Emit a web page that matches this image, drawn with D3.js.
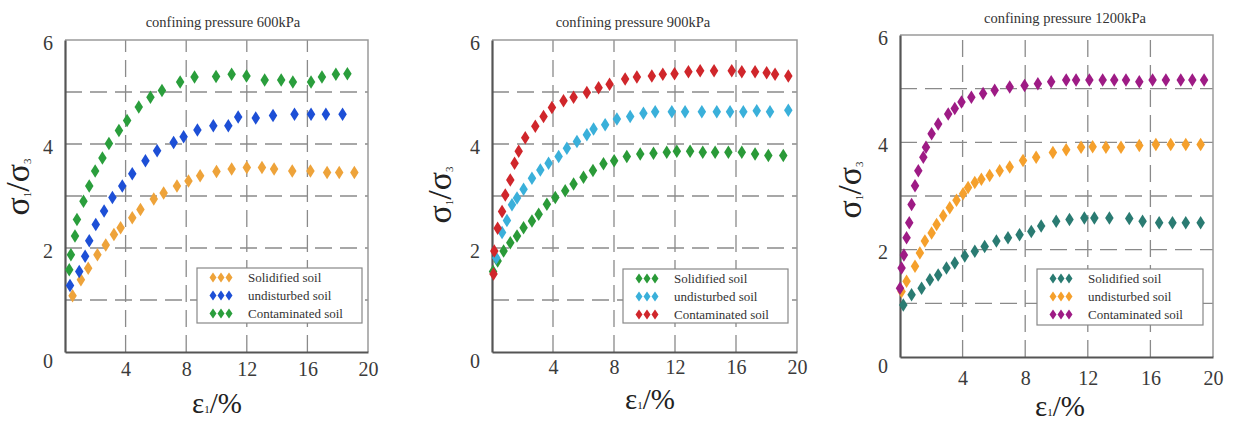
<!DOCTYPE html>
<html><head><meta charset="utf-8">
<script src="https://cdn.jsdelivr.net/npm/d3@7"></script>
<style>body{margin:0;background:#fff}svg{display:block}</style>
</head><body><svg id="c" width="1235" height="426"></svg>
<script>
// ---- data ----
const titles = ["confining pressure 600kPa","confining pressure 900kPa","confining pressure 1200kPa"];
const seriesNames = ["Solidified soil","undisturbed soil","Contaminated soil"];
const xTicks = [4,8,12,16,20];
const yTicks = [0,2,4,6];
const yGrid = [1,2,3,4,5];
const xGrid = [4,8,12,16];

const p600Solidified = [[0.5,1.08],[1.05,1.39],[1.53,1.61],[2.14,1.87],[2.69,2.06],[3.23,2.26],[3.67,2.39],[4.44,2.58],[4.98,2.74],[5.86,2.94],[6.51,3.06],[7.39,3.19],[8.15,3.29],[8.92,3.39],[10.0,3.47],[11.0,3.52],[12.0,3.55],[13.0,3.55],[13.8,3.52],[15.0,3.48],[16.2,3.48],[17.3,3.45],[18.1,3.45],[19.1,3.45]];
const p600Undisturbed = [[0.33,1.28],[0.94,1.55],[1.33,1.84],[1.6,2.14],[2.03,2.45],[2.58,2.71],[3.13,2.97],[3.78,3.19],[4.44,3.43],[5.31,3.68],[6.08,3.87],[7.17,4.03],[7.83,4.14],[8.74,4.27],[9.79,4.35],[10.78,4.35],[11.43,4.52],[12.59,4.5],[13.73,4.55],[15.15,4.57],[16.24,4.57],[17.22,4.57],[18.32,4.57]];
const p600Contaminated = [[0.28,1.58],[0.39,1.87],[0.66,2.23],[0.79,2.55],[1.22,2.9],[1.6,3.19],[1.99,3.48],[2.47,3.73],[2.9,4.01],[3.56,4.26],[4.1,4.45],[4.87,4.71],[5.64,4.9],[6.4,5.03],[7.6,5.19],[8.55,5.29],[9.97,5.3],[11.0,5.34],[11.98,5.31],[13.18,5.23],[14.27,5.23],[15.04,5.19],[16.24,5.19],[16.96,5.29],[17.88,5.34],[18.64,5.35]];

const p900Solidified = [[0.07,1.55],[0.37,1.75],[0.76,1.94],[1.2,2.1],[1.64,2.23],[2.07,2.39],[2.62,2.52],[3.06,2.65],[3.6,2.84],[4.15,2.97],[4.8,3.1],[5.35,3.23],[6.0,3.36],[6.62,3.49],[7.31,3.62],[8.01,3.68],[8.84,3.76],[9.72,3.81],[10.59,3.82],[11.46,3.84],[12.12,3.86],[12.99,3.86],[13.82,3.84],[14.63,3.84],[15.5,3.84],[16.38,3.84],[17.25,3.81],[18.12,3.78],[19.1,3.78]];
const p900Undisturbed = [[0.28,1.81],[0.66,2.3],[0.98,2.53],[1.31,2.83],[1.64,2.96],[2.07,3.13],[2.62,3.34],[3.17,3.5],[3.71,3.63],[4.37,3.76],[4.91,3.92],[5.57,4.05],[6.22,4.18],[6.66,4.29],[7.42,4.37],[8.19,4.48],[9.06,4.53],[9.93,4.59],[10.7,4.62],[11.79,4.62],[12.66,4.62],[13.76,4.62],[14.74,4.62],[15.61,4.62],[16.48,4.62],[17.36,4.64],[18.23,4.62],[19.43,4.65]];
const p900Contaminated = [[0.1,1.5],[0.15,1.94],[0.37,2.38],[0.66,2.7],[0.87,3.02],[1.2,3.31],[1.48,3.63],[1.75,3.86],[2.18,4.12],[2.84,4.34],[3.38,4.53],[3.93,4.7],[4.69,4.83],[5.35,4.9],[6.22,4.99],[6.99,5.08],[7.71,5.15],[8.73,5.25],[9.5,5.29],[10.48,5.31],[11.2,5.34],[11.97,5.35],[12.88,5.39],[13.65,5.41],[14.56,5.41],[15.72,5.41],[16.38,5.39],[17.25,5.39],[18.01,5.37],[18.56,5.34],[19.43,5.31]];

const p1200Solidified = [[0.21,0.97],[0.74,1.16],[1.38,1.28],[1.91,1.44],[2.44,1.53],[2.97,1.66],[3.5,1.75],[4.14,1.88],[4.78,1.97],[5.41,2.06],[6.16,2.16],[6.9,2.22],[7.64,2.28],[8.39,2.34],[9.02,2.44],[9.98,2.53],[10.83,2.56],[11.78,2.59],[12.42,2.59],[13.38,2.59],[14.65,2.58],[15.5,2.53],[16.56,2.5],[17.41,2.5],[18.26,2.5],[19.21,2.5]];
const p1200Undisturbed = [[0.1,1.22],[0.42,1.41],[0.96,1.69],[1.27,1.94],[1.59,2.16],[2.02,2.31],[2.34,2.47],[2.76,2.63],[3.18,2.78],[3.61,2.92],[4.03,3.04],[4.35,3.16],[4.78,3.25],[5.2,3.31],[5.73,3.38],[6.37,3.47],[7.01,3.54],[7.86,3.66],[8.7,3.72],[9.77,3.81],[10.62,3.86],[11.57,3.91],[12.31,3.92],[13.16,3.91],[14.12,3.91],[15.29,3.94],[16.35,3.96],[17.3,3.96],[18.26,3.96],[19.21,3.96]];
const p1200Contaminated = [[0.0,1.28],[0.1,1.66],[0.25,1.9],[0.42,2.22],[0.59,2.5],[0.74,2.84],[0.96,3.19],[1.17,3.47],[1.49,3.72],[1.66,3.91],[2.02,4.16],[2.44,4.34],[3.08,4.53],[3.5,4.63],[3.93,4.75],[4.56,4.84],[5.31,4.91],[6.05,4.97],[7.01,5.03],[7.96,5.06],[8.81,5.09],[9.66,5.13],[10.62,5.16],[11.25,5.16],[12.1,5.16],[12.95,5.16],[13.69,5.16],[14.44,5.16],[15.29,5.13],[16.14,5.16],[16.99,5.16],[17.94,5.16],[18.68,5.16],[19.43,5.16]];

const colors600 = ["#eea33a","#1d4fd6","#2a9e3c"];
const colors900 = ["#2a9a38","#3ab0da","#d0262b"];
const colors1200 = ["#2a7b72","#f5a02c","#9e1b85"];

// ---- layout ----
const FONT = "'Liberation Serif', 'DejaVu Serif', 'Times New Roman', serif";
const panels = [
  {title:titles[0], data:[p600Solidified,p600Undisturbed,p600Contaminated], colors:colors600,
   xr:[65,368], yr:[352,40], tp:6, titleX:223, titleY:27, ylabX:29, ylabY:187, xlabX:217, xlabY:413, leg:[197,268,165,55]},
  {title:titles[1], data:[p900Solidified,p900Undisturbed,p900Contaminated], colors:colors900,
   xr:[492,797], yr:[352,40], tp:4, titleX:633, titleY:27, ylabX:451, ylabY:195, xlabX:650, xlabY:409, leg:[623,269,165,54]},
  {title:titles[2], data:[p1200Solidified,p1200Undisturbed,p1200Contaminated], colors:colors1200,
   xr:[900,1213], yr:[357,35], tp:10, titleX:1065, titleY:23, ylabX:861, ylabY:190, xlabX:1060, xlabY:416, leg:[1037,269,166,56]}
];

const svg = d3.select("#c");
const diamond = (w,h)=>`M0,${-h/2}L${w/2},0L0,${h/2}L${-w/2},0Z`;

panels.forEach(p=>{
  const x = d3.scaleLinear().domain([0,20]).range(p.xr);
  const y = d3.scaleLinear().domain([0,6]).range(p.yr);
  const g = svg.append("g").style("font-family",FONT);
  // grid
  g.selectAll(".hg").data(yGrid).join("line")
    .attr("x1",p.xr[0]).attr("x2",p.xr[1]).attr("y1",d=>y(d)).attr("y2",d=>y(d))
    .attr("stroke","#8a8a8a").attr("stroke-width",1.3).attr("stroke-dasharray","17,8");
  g.selectAll(".vg").data(xGrid).join("line")
    .attr("y1",p.yr[0]).attr("y2",p.yr[1]).attr("x1",d=>x(d)).attr("x2",d=>x(d))
    .attr("stroke","#8a8a8a").attr("stroke-width",1.3).attr("stroke-dasharray","17,8");
  // frame top/right
  g.append("path").attr("d",`M${p.xr[0]},${p.yr[1]}H${p.xr[1]}V${p.yr[0]}`)
    .attr("fill","none").attr("stroke","#9a9a9a").attr("stroke-width",1.5);
  // axes
  const xa = g.append("g").attr("transform",`translate(0,${p.yr[0]})`)
    .call(d3.axisBottom(x).tickValues(xTicks).tickSize(0).tickPadding(p.tp).tickFormat(d3.format("d")));
  const ya = g.append("g").attr("transform",`translate(${p.xr[0]},0)`)
    .call(d3.axisLeft(y).tickValues(yTicks).tickSize(0).tickPadding(12).tickFormat(d3.format("d")));
  [xa,ya].forEach(a=>{
    a.attr("font-family",null);
    a.select(".domain").attr("stroke","#555").attr("stroke-width",2.2);
    a.selectAll("text").attr("font-size",20).attr("fill","#3a3a3a").style("font-family",FONT);
  });
  xa.selectAll("text").attr("dy","0.9em");
  ya.selectAll("text").attr("dy",(d)=> d===0 ? "0.75em" : "0.45em");
  // title
  g.append("text").attr("x",p.titleX).attr("y",p.titleY).attr("text-anchor","middle")
    .attr("font-size",14.5).attr("fill","#333").style("font-family",FONT).text(p.title);
  // y label
  const yl = g.append("text").attr("transform",`translate(${p.ylabX},${p.ylabY}) rotate(-90)`)
    .attr("text-anchor","middle").attr("font-size",34).attr("fill","#222").style("font-family",FONT);
  yl.append("tspan").text("σ");
  yl.append("tspan").attr("font-size",11).attr("dy",2).text("1");
  yl.append("tspan").attr("dy",-2).text("/σ");
  yl.append("tspan").attr("font-size",11).attr("dy",2).text("3");
  // x label
  const xl = g.append("text").attr("x",p.xlabX).attr("y",p.xlabY).attr("text-anchor","middle")
    .attr("font-size",29).attr("fill","#222").style("font-family",FONT);
  xl.append("tspan").text("ε");
  xl.append("tspan").attr("font-size",11).text("1");
  xl.append("tspan").text("/%");
  // points
  p.data.forEach((s,i)=>{
    g.selectAll(null).data(s).join("path")
      .attr("d",diamond(8.5,13.5))
      .attr("transform",d=>`translate(${x(d[0])},${y(d[1])})`)
      .attr("fill",p.colors[i]);
  });
  // legend
  const [lx,ly,lw,lh] = p.leg;
  const lg = g.append("g").attr("transform",`translate(${lx},${ly})`);
  lg.append("rect").attr("width",lw).attr("height",lh).attr("fill","#fff").attr("stroke","#888").attr("stroke-width",1.2);
  seriesNames.forEach((n,i)=>{
    const ry = 9.5 + i*18;
    [16,24,32].forEach(dx=>{
      lg.append("path").attr("d",diamond(7,10)).attr("transform",`translate(${dx},${ry})`).attr("fill",p.colors[i]);
    });
    lg.append("text").attr("x",51).attr("y",ry+4).attr("font-size",13).attr("fill","#333").style("font-family",FONT).text(n);
  });
});
</script></body></html>
